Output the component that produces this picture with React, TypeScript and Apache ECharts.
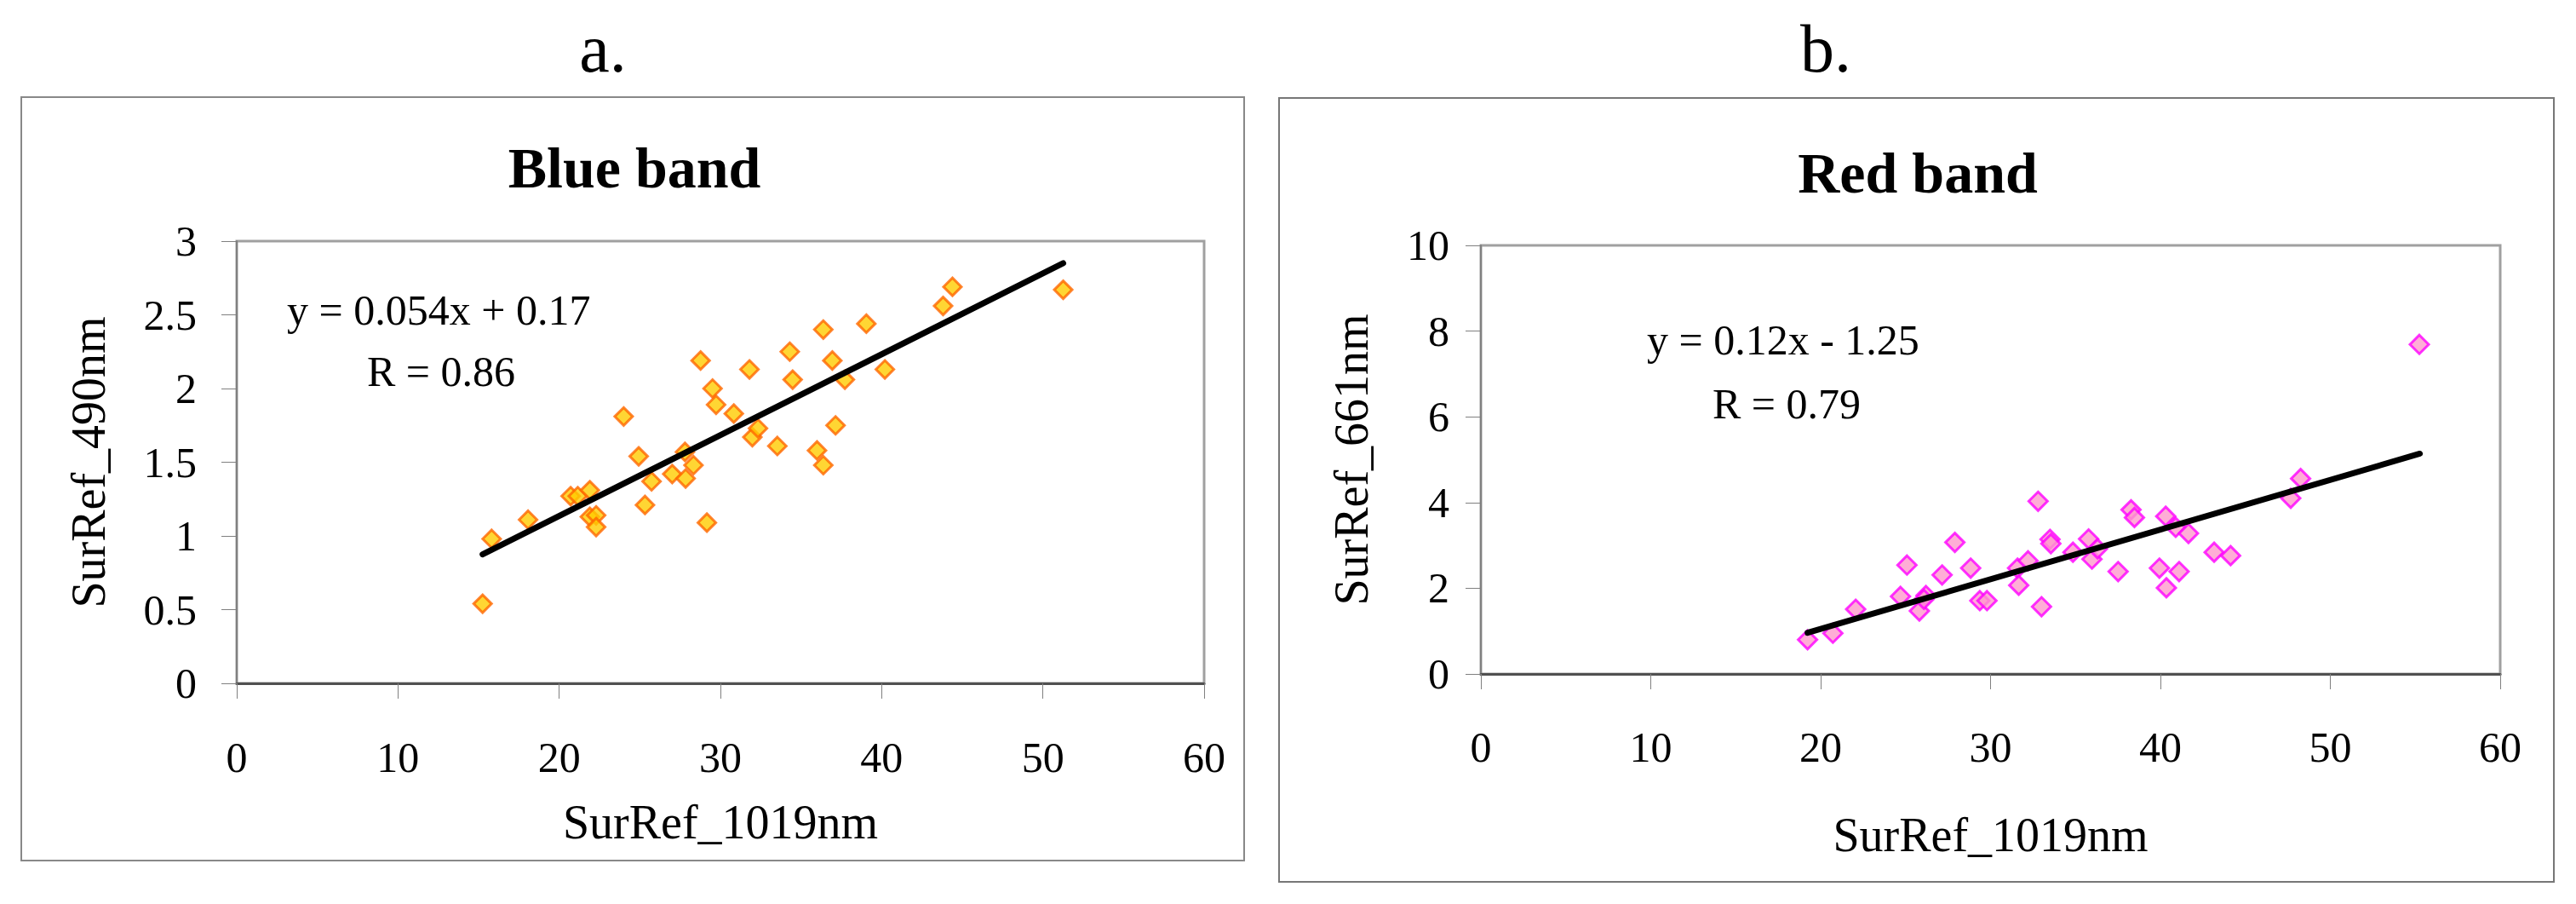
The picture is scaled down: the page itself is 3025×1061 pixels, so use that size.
import React, { useEffect, useRef } from "react";
import * as echarts from "echarts";

const FONT = "'Liberation Serif', 'Times New Roman', serif";

// Blue band (SurRef_1019nm vs SurRef_490nm)
const blueX = [15.25, 15.81, 18.07, 20.71, 21.15, 21.9, 21.9, 22.29, 22.29, 24.0, 24.93, 25.32, 25.73, 27.01, 27.8, 27.84, 28.33, 28.77, 29.16, 29.51, 29.73, 30.83, 31.8, 31.98, 32.33, 33.53, 34.3, 34.48, 35.99, 36.38, 36.38, 36.94, 37.14, 37.72, 39.05, 40.2, 43.81, 44.39, 51.26];
const blueY = [0.54, 0.98, 1.11, 1.27, 1.27, 1.31, 1.13, 1.14, 1.06, 1.81, 1.54, 1.21, 1.37, 1.42, 1.57, 1.39, 1.48, 2.19, 1.09, 2.0, 1.89, 1.83, 2.13, 1.67, 1.73, 1.61, 2.25, 2.06, 1.58, 1.48, 2.4, 2.19, 1.75, 2.06, 2.44, 2.13, 2.56, 2.69, 2.67];
const blueTrendX = [15.25, 51.26];
const blueTrendY = [0.875, 2.85];

// Red band (SurRef_1019nm vs SurRef_661nm)
const redX = [19.23, 20.72, 22.06, 24.7, 25.08, 25.81, 26.2, 26.08, 27.15, 27.9, 28.83, 29.37, 29.79, 31.59, 31.66, 32.21, 32.8, 33.0, 33.5, 33.55, 34.85, 35.77, 35.97, 36.3, 37.51, 38.27, 38.47, 39.94, 40.31, 40.35, 40.9, 41.1, 41.65, 43.16, 44.13, 47.67, 48.25, 55.24];
const redY = [0.8, 0.95, 1.51, 1.81, 2.54, 1.47, 1.83, 1.74, 2.31, 3.07, 2.47, 1.71, 1.71, 2.47, 2.07, 2.64, 4.03, 1.57, 3.14, 3.04, 2.84, 3.15, 2.68, 2.92, 2.39, 3.83, 3.65, 2.47, 3.68, 2.01, 3.42, 2.39, 3.28, 2.84, 2.76, 4.1, 4.56, 7.69];
const redTrendX = [19.23, 55.27];
const redTrendY = [0.96, 5.14];

const xTicks = { min: 0, max: 60, interval: 10 };
const blueYTicks = { min: 0, max: 3, interval: 0.5 };
const redYTicks = { min: 0, max: 10, interval: 2 };

const panelLabels = ["a.", "b."];
const chartTitles = ["Blue band", "Red band"];
const xName = "SurRef_1019nm";
const yNames = ["SurRef_490nm", "SurRef_661nm"];
const equations = ["y = 0.054x + 0.17", "y = 0.12x - 1.25"];
const rValues = ["R = 0.86", "R = 0.79"];

const zip = (xs: number[], ys: number[]) => xs.map((x, i) => [x, ys[i]]);

export default function App() {
  const ref = useRef<HTMLDivElement>(null);
  useEffect(() => {
    if (!ref.current) return;
    const chart = echarts.init(ref.current, undefined, { renderer: "svg" });

    const tickLabel = { fontFamily: FONT, fontSize: 50, color: "#000" };
    const nameStyle = { fontFamily: FONT, fontSize: 56, color: "#000" };
    const axisTick = { show: true, length: 18, lineStyle: { color: "#808080", width: 1 } };

    const mkX = (gridIndex: number, margin: number, nameGap: number) => ({
      type: "value",
      gridIndex,
      ...xTicks,
      name: xName,
      nameLocation: "middle",
      nameGap,
      nameTextStyle: nameStyle,
      axisLine: { show: true, onZero: false, lineStyle: { color: "#505050", width: 3 } },
      axisTick,
      axisLabel: { ...tickLabel, margin },
      splitLine: { show: false },
    });
    const mkY = (gridIndex: number, ticks: any, name: string, margin: number, nameGap: number) => ({
      type: "value",
      gridIndex,
      ...ticks,
      name,
      nameLocation: "middle",
      nameGap,
      nameTextStyle: nameStyle,
      axisLine: { show: true, onZero: false, lineStyle: { color: "#808080", width: 2 } },
      axisTick,
      axisLabel: { ...tickLabel, margin },
      splitLine: { show: false },
    });

    const textEl = (text: string, x: number, y: number, fontSize: number, align: string, bold = false) => ({
      type: "text",
      x,
      y,
      z: 10,
      style: {
        text,
        fill: "#000",
        fontFamily: FONT,
        fontSize,
        fontWeight: bold ? "bold" : "normal",
        align,
        verticalAlign: "middle",
      },
    });

    const option: any = {
      animation: false,
      backgroundColor: "#ffffff",
      grid: [
        { left: 278, top: 283, width: 1136, height: 519, show: true, borderColor: "#a0a0a0", borderWidth: 3, backgroundColor: "#ffffff" },
        { left: 1739, top: 288, width: 1197, height: 503, show: true, borderColor: "#a0a0a0", borderWidth: 3, backgroundColor: "#ffffff" },
      ],
      xAxis: [mkX(0, 62, 135), mkX(1, 61, 161)],
      yAxis: [mkY(0, blueYTicks, yNames[0], 47, 146), mkY(1, redYTicks, yNames[1], 37, 124)],
      series: [
        {
          type: "scatter",
          xAxisIndex: 0,
          yAxisIndex: 0,
          symbol: "diamond",
          symbolSize: 21,
          itemStyle: { color: "#FFCC00", borderColor: "#FF6600", borderWidth: 3 },
          data: zip(blueX, blueY),
          z: 3,
        },
        {
          type: "line",
          xAxisIndex: 0,
          yAxisIndex: 0,
          showSymbol: false,
          symbol: "none",
          lineStyle: { color: "#000", width: 7, cap: "round" },
          data: zip(blueTrendX, blueTrendY),
          z: 4,
        },
        {
          type: "scatter",
          xAxisIndex: 1,
          yAxisIndex: 1,
          symbol: "diamond",
          symbolSize: 22,
          itemStyle: { color: "#FF99CC", borderColor: "#FF00FF", borderWidth: 3 },
          data: zip(redX, redY),
          z: 3,
        },
        {
          type: "line",
          xAxisIndex: 1,
          yAxisIndex: 1,
          showSymbol: false,
          symbol: "none",
          lineStyle: { color: "#000", width: 7, cap: "round" },
          data: zip(redTrendX, redTrendY),
          z: 4,
        },
      ],
      graphic: [
        { type: "rect", z: -1, shape: { x: 25, y: 114, width: 1436, height: 896 }, style: { fill: "none", stroke: "#888888", lineWidth: 2 } },
        { type: "rect", z: -1, shape: { x: 1502, y: 115, width: 1497, height: 920 }, style: { fill: "none", stroke: "#777777", lineWidth: 2 } },
        textEl(panelLabels[0], 708, 57, 80, "center"),
        textEl(panelLabels[1], 2144, 57, 80, "center"),
        textEl(chartTitles[0], 745, 197, 68, "center", true),
        textEl(chartTitles[1], 2252, 203, 68, "center", true),
        textEl(equations[0], 337, 364, 50, "left"),
        textEl(rValues[0], 431, 436, 50, "left"),
        textEl(equations[1], 1934, 399, 50, "left"),
        textEl(rValues[1], 2011, 474, 50, "left"),
      ],
    };
    chart.setOption(option);
    return () => chart.dispose();
  }, []);
  return (
    <div
      ref={ref}
      style={{ position: "absolute", left: 0, top: 0, width: 3025, height: 1061, background: "#fff" }}
    />
  );
}
